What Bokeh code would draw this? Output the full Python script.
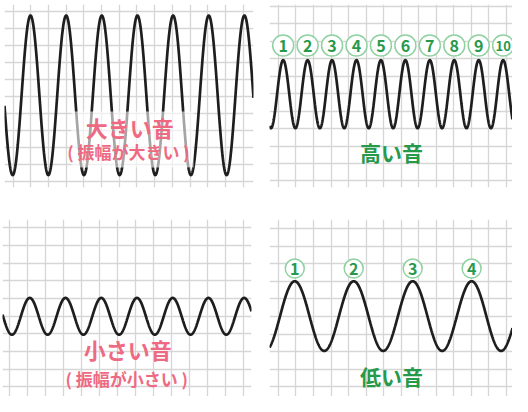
import numpy as np
from bokeh.plotting import figure
from bokeh.layouts import column, row
from bokeh.models import SingleIntervalTicker, ColumnDataSource
from bokeh.core.properties import value
from bokeh.embed import file_html
from bokeh.resources import INLINE

# ---- data (grid-cell units) ----
titles = ["大きい音", "高い音", "小さい音", "低い音"]
subtitles = ["( 振幅が大きい )", "", "( 振幅が小さい )", ""]
amplitudes = [4.69, 1.95, 1.04, 1.98]
periods = [2.016, 1.393, 1.99, 3.36]
first_peaks = [0.98, 0.27, 1.11, 0.93]
centers = [5.05, 4.97, 4.0, 4.02]
peak_labels_high = ["1", "2", "3", "4", "5", "6", "7", "8", "9", "10"]
peak_labels_low = ["1", "2", "3", "4"]

# ---- layout / style ----
x_ranges = [(-0.49, 13.59), (-0.51, 13.34), (-0.41, 13.46), (-0.51, 13.34)]
y_ranges = [(-0.37, 10.39), (-0.375, 10.11), (-0.54, 9.48), (-0.55, 9.51)]
borders = [  # left, right, top, bottom
    (4, 3, 4, 0),
    (13, 0, 0, 11),
    (2, 5, 18, 0),
    (13, 0, 21, 0),
]
title_pos = [(6.59, 3.2), (6.45, 1.64), (6.57, 2.13), (6.45, 0.64)]
sub_pos = [(6.52, 1.72), None, (6.51, 0.46), None]
label_y = [None, 7.76, None, 6.72]
ring_size = [None, 21, None, 19]
PINK = "#ee6a83"
GREEN = "#27994b"
RING = "#8fd1a0"
FONT = value("Noto Sans CJK JP")

figs = []
for i in range(4):
    l, r, t, b = borders[i]
    p = figure(width=256, height=198, output_backend="svg", toolbar_location=None,
               x_range=x_ranges[i], y_range=y_ranges[i],
               x_axis_location=None, y_axis_location=None,
               min_border_left=l, min_border_right=r, min_border_top=t, min_border_bottom=b)
    p.outline_line_color = None
    p.background_fill_color = "white"
    p.border_fill_color = "white"
    for g in p.xgrid + p.ygrid:
        g.ticker = SingleIntervalTicker(interval=1)
        g.grid_line_color = "#d6d6d6"
        g.grid_line_width = 1.3
        g.grid_line_alpha = 1.0

    xs = np.linspace(x_ranges[i][0], x_ranges[i][1], 1200)
    ys = centers[i] + amplitudes[i] * np.cos(2 * np.pi * (xs - first_peaks[i]) / periods[i])
    p.line(xs, ys, line_color="#1e1e1e", line_width=2.7)

    if i in (0, 2):
        if i == 0:
            p.quad(left=[3.3], right=[10.2], bottom=[0.8], top=[4.1],
                   fill_color="white", fill_alpha=0.6, line_color=None)
        tx, ty = title_pos[i]
        p.text(x=[tx], y=[ty], text=[titles[i]], text_color=PINK, text_font=FONT,
               text_font_size="22px", text_font_style="bold",
               text_align="center", text_baseline="middle")
        sx, sy = sub_pos[i]
        p.text(x=[sx], y=[sy], text=[subtitles[i]], text_color=PINK, text_font=FONT,
               text_font_size="17px", text_font_style="bold",
               text_align="center", text_baseline="middle")
    else:
        labels = peak_labels_high if i == 1 else peak_labels_low
        px = [first_peaks[i] + k * periods[i] for k in range(len(labels))]
        py = [label_y[i]] * len(labels)
        src = ColumnDataSource(dict(x=px, y=py, t=labels,
                                    fs=["13px" if len(s) > 1 else "16px" for s in labels]))
        p.scatter("x", "y", source=src, marker="circle", size=ring_size[i],
                  fill_color="white", line_color=RING, line_width=1.5)
        p.text("x", "y", text="t", source=src, text_color=GREEN, text_font=FONT,
               text_font_size="fs", text_font_style="bold",
               text_align="center", text_baseline="middle")
        tx, ty = title_pos[i]
        p.text(x=[tx], y=[ty], text=[titles[i]], text_color=GREEN, text_font=FONT,
               text_font_size="21px", text_font_style="bold",
               text_align="center", text_baseline="middle")
    figs.append(p)

layout = column(row(figs[0], figs[1]), row(figs[2], figs[3]))
open("out.html", "w").write(file_html(layout, INLINE))
